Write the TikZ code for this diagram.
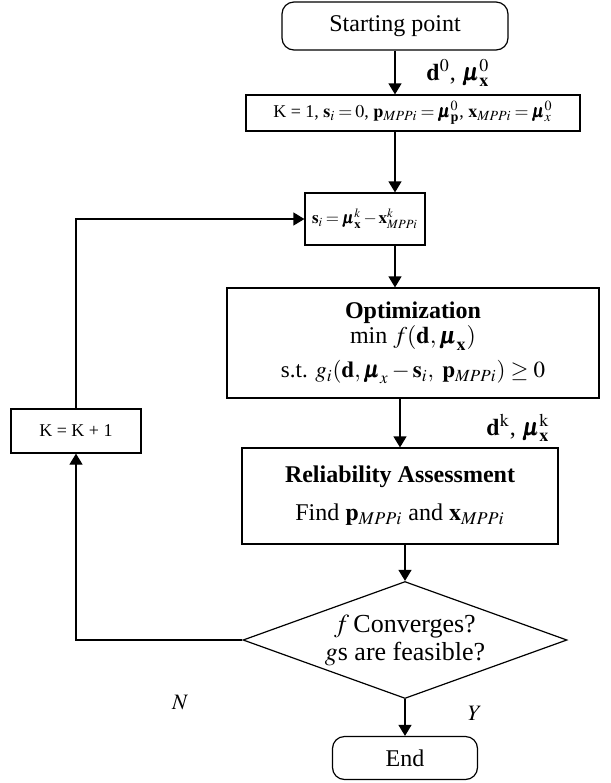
\documentclass[tikz,border=0pt]{standalone}
\usepackage{amsmath}
\usepackage{mathptmx}
\usepackage{bm}
\usepackage{fontspec}
\setmainfont{Liberation Serif}
\usetikzlibrary{arrows.meta,shapes.geometric}

\newcommand{\tightmath}{\thickmuskip=3mu\medmuskip=2mu}

\begin{document}
\begin{tikzpicture}[
  x = 0.5pt, y = -0.5pt,
  >={Triangle[length=5.5pt,width=6.5pt]},
  every node/.style = {font=\fontsize{12}{14}\selectfont, inner sep=0pt},
  box/.style = {draw, line width=0.6pt, align=center},
  term/.style = {box, rounded corners=6pt},
  decision/.style = {draw, line width=0.6pt, diamond, aspect=2.77, align=center},
  flow/.style = {->, line width=0.6pt},
]
\useasboundingbox (0,0) rectangle (611,783);

% main column
\node[term, minimum width=113pt, minimum height=24pt] (start) at (395,26) {Starting point};
\node[box, minimum width=167pt, minimum height=18pt, font=\fontsize{9}{11}\selectfont\tightmath] (init) at (413,113)
  {K = 1, $\mathbf{s}_i = 0$, $\mathbf{p}_{MPPi} = \bm{\mu}^0_{\mathbf{p}}$, $\mathbf{x}_{MPPi} = \bm{\mu}^0_x$};
\node[box, minimum width=60pt, minimum height=26pt, font=\fontsize{8.5}{10}\selectfont\tightmath] (shift) at (365,219)
  {$\mathbf{s}_i = \bm{\mu}^k_{\mathbf{x}} - \mathbf{x}^k_{MPPi}$};
\node[box, minimum width=186pt, minimum height=55pt, font=\fontsize{12}{11}\selectfont] (opt) at (413,343)
  {\textbf{Optimization}\\ min $f(\mathbf{d}, \bm{\mu}_{\mathbf{x}})$\\[4pt]
   {\fontsize{11.5}{11}\selectfont s.t. $g_i(\mathbf{d}, \bm{\mu}_x - \mathbf{s}_i,\ \mathbf{p}_{MPPi}) \geq 0$}};
\node[box, minimum width=158pt, minimum height=48pt] (rel) at (400,496)
  {\textbf{Reliability Assessment}\\[5pt] Find $\mathbf{p}_{MPPi}$ and $\mathbf{x}_{MPPi}$};
\node[decision, minimum width=162pt, minimum height=58.5pt, font=\fontsize{13}{14}\selectfont] (conv) at (405,640)
  {$f$\,Converges?\\ $g$s are feasible?};
\node[term, minimum width=72.5pt, minimum height=21.5pt] (finish) at (405,758) {End};

% loop back
\node[box, minimum width=65pt, minimum height=22pt, font=\fontsize{9}{11}\selectfont] (incr) at (76,431) {K = K + 1};

% labels
\node (lblzero) at (458,73) {$\mathbf{d}^0$, $\bm{\mu}^0_{\mathbf{x}}$};
\node (lblk) at (518,428) {$\mathbf{d}^{\mathrm{k}}$, $\bm{\mu}^{\mathrm{k}}_{\mathbf{x}}$};
\node[font=\fontsize{11}{13}\selectfont] (lblno) at (180,703) {$N$};
\node[font=\fontsize{11}{13}\selectfont] (lblyes) at (475,713) {$Y$};

\draw[flow] (start.south) -- (start.south |- init.north);
\draw[flow] (start |- init.south) -- (start |- shift.north);
\draw[flow] (start |- shift.south) -- (start |- opt.north);
\draw[flow] (rel |- opt.south) -- (rel.north);
\draw[flow] (conv |- rel.south) -- (conv.north);
\draw[flow] (conv.south) -- (finish.north);
\draw[flow] (conv.west) -| (incr.south);
\draw[flow] (incr.north) |- (shift.west);

\end{tikzpicture}
\end{document}
